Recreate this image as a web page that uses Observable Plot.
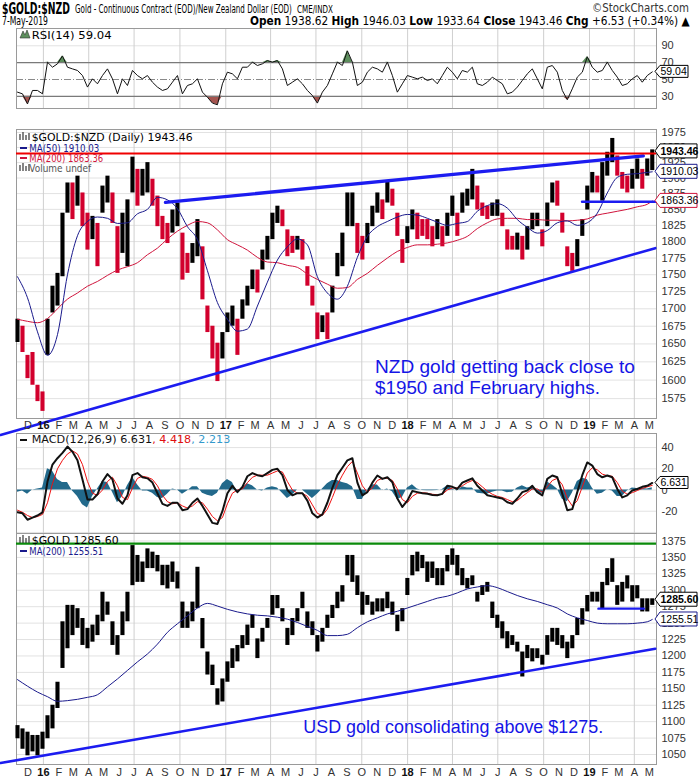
<!DOCTYPE html>
<html><head><meta charset="utf-8">
<script src="https://cdn.jsdelivr.net/npm/d3@7"></script>
<script src="https://cdn.jsdelivr.net/npm/@observablehq/plot@0.6"></script>
<style>
html,body{margin:0;padding:0;background:#fff;}
#chart{position:relative;width:700px;height:780px;overflow:hidden;background:#fff;}
#chart svg{position:absolute;left:0;overflow:visible;}
</style></head><body><div id="chart"></div>
<script>
// ---------------- DATA ----------------
const xDomain = [new Date("2015-11-08T00:00Z"), new Date("2019-05-15T12:00Z")];
const sampleFirst = new Date("2015-11-10T00:00Z");
const sampleLast = new Date("2019-05-07T00:00Z");

// $GOLD:$NZD sampled highs / lows
const nzdHigh = [1685,1675,1634,1638,1593,1584,1685,1733,1752,1844,
1892,1892,1903,1876,1844,1839,1828,1887,1903,1876,
1823,1844,1865,1934,1914,1914,1925,1898,1871,1839,
1828,1849,1860,1813,1782,1797,1834,1792,1704,1675,
1651,1666,1694,1704,1685,1713,1733,1757,1757,1787,
1808,1844,1855,1849,1818,1808,1808,1803,1762,1733,
1694,1690,1694,1733,1782,1813,1876,1876,1828,1808,
1828,1855,1876,1865,1895,1882,1844,1803,1823,1849,
1844,1834,1834,1823,1834,1823,1844,1871,1844,1876,
1882,1914,1887,1860,1855,1860,1865,1844,1818,1808,
1813,1808,1823,1844,1844,1818,1860,1892,1895,1844,
1792,1782,1803,1834,1887,1909,1903,1925,1942,1965,
1936,1909,1903,1914,1931,1914,1931,1946];
const nzdLow = [1652,1638,1602,1593,1571,1558,1634,1694,1704,1747,
1844,1834,1855,1823,1787,1803,1762,1844,1860,1828,
1752,1782,1762,1876,1855,1871,1876,1855,1823,1803,
1797,1813,1823,1742,1752,1767,1777,1713,1666,1629,
1598,1629,1666,1675,1634,1685,1704,1728,1723,1757,
1772,1803,1828,1823,1777,1782,1787,1772,1733,1704,
1656,1666,1656,1694,1747,1762,1823,1823,1782,1772,
1797,1823,1844,1834,1860,1855,1808,1767,1797,1818,
1803,1808,1803,1792,1803,1792,1808,1839,1808,1844,
1855,1865,1849,1839,1834,1839,1839,1823,1787,1787,
1787,1772,1787,1818,1823,1792,1823,1860,1855,1813,
1762,1755,1762,1808,1849,1876,1876,1863,1903,1925,
1903,1882,1876,1882,1898,1882,1903,1912];
// MA(50) and MA(200) of $GOLD:$NZD (every second sample + last)
const nzdMA50 = [1747,1716,1667,1634,1663,1750,1809,1831,1838,1836,
1828,1829,1843,1850,1869,1865,1851,1823,1803,1756,
1709,1685,1668,1671,1704,1739,1772,1792,1804,1795,
1747,1723,1714,1733,
1776,1808,1823,1831,1838,1842,1841,1836,1830,1825,
1828,1831,1847,1856,1859,1852,1834,1822,1813,1817,
1829,1832,1825,1829,1844,1876,1901,1906,1907,1909,
1910.03];
const nzdMA200 = [1685,1682,1680,1686,1700,1714,1723,1733,1740,1749,
1757,1762,1768,1780,1790,1804,1816,1825,1831,1829,
1818,1803,1795,1787,1776,1769,1768,1764,1761,1751,
1743,1736,1730,1731,
1743,1752,1764,1775,1785,1791,1795,1795,1796,1798,
1802,1808,1820,1829,1835,1836,1836,1834,1834,1833,
1833,1832,1833,1835,1841,1844,1847,1850,1854,1858,
1863.36];
// $GOLD (USD) sampled highs / lows and MA(200)
const usdHigh = [1094,1089,1084,1079,1079,1084,1109,1125,1160,1252,
1277,1277,1272,1257,1242,1247,1262,1297,1282,1252,
1231,1267,1297,1368,1353,1343,1363,1358,1353,1338,
1338,1343,1328,1282,1267,1282,1335,1257,1206,1186,
1150,1165,1191,1211,1216,1231,1247,1262,1226,1242,
1257,1292,1292,1272,1242,1257,1272,1297,1267,1252,
1231,1242,1262,1277,1297,1307,1353,1353,1322,1297,
1292,1282,1287,1287,1297,1282,1262,1272,1318,1353,
1358,1353,1343,1343,1333,1333,1353,1363,1353,1333,
1318,1322,1297,1307,1312,1282,1262,1252,1237,1231,
1221,1206,1216,1211,1211,1201,1231,1242,1242,1231,
1221,1231,1257,1272,1292,1297,1297,1312,1333,1348,
1307,1312,1322,1307,1307,1287,1287,1287];
const usdLow = [1074,1058,1048,1054,1048,1058,1074,1089,1120,1181,
1211,1231,1242,1216,1211,1221,1231,1252,1262,1216,
1201,1231,1252,1307,1312,1312,1333,1333,1328,1307,
1302,1312,1302,1242,1242,1252,1272,1211,1171,1155,
1125,1130,1160,1181,1191,1211,1216,1242,1196,1221,
1242,1262,1272,1252,1216,1231,1252,1272,1242,1231,
1206,1221,1242,1257,1272,1282,1322,1312,1292,1262,
1277,1262,1267,1267,1272,1262,1237,1252,1292,1322,
1328,1333,1312,1318,1307,1307,1328,1338,1322,1307,
1302,1307,1282,1292,1297,1257,1242,1226,1211,1216,
1206,1168,1196,1191,1196,1186,1201,1221,1216,1211,
1196,1211,1231,1247,1267,1282,1282,1272,1307,1312,
1277,1282,1302,1282,1287,1267,1267,1277];
const usdMA200 = [1164,1154,1145,1138,1131,1132,1134,1137,1141,1153,
1165,1178,1191,1203,1218,1236,1249,1261,1273,1280,
1276,1271,1267,1264,1262,1261,1259,1256,1251,1245,
1239,1231,1231,1233,
1243,1252,1258,1264,1268,1273,1278,1283,1288,1291,
1296,1302,1305,1307,1304,1298,1292,1287,1283,1278,
1273,1264,1258,1254,1250,1249,1249,1249,1250,1252,
1255.51];
// RSI(14)
const rsi = [35,33,21,37,37,33,70.5,64.6,68.6,78,
64.6,62.6,60.7,54.7,41,50.8,44.9,54.7,62.6,50.8,
33,50.8,42.9,60.7,54.7,50.8,54.7,46.8,41,37,
38.9,46.8,54.7,33,42.9,44.9,50.8,35,29,22,
20,44.9,58.7,56.7,50.8,64.6,64.6,70.6,66.6,68.6,
72.5,70.6,72.5,62.6,42.9,46.8,50.8,44.9,37,31,
22,35,42.9,56.7,70.6,66.6,84,70.6,42.9,46.8,
58.7,64.6,62.6,58.7,70.6,54.7,35,44.9,54.7,52.8,
50.8,52.8,48.8,50.8,44.9,54.7,64.6,58.7,50.8,60.7,
58.7,64.6,44.9,42.9,46.8,52.8,48.8,44.9,33,35,
41,48.8,56.7,62.6,50.8,38.9,64.6,66.6,58.7,37,
26,38.9,52.8,58.7,77,64.6,58.7,60.7,70.6,60.7,
52.8,42.9,44.9,50.8,54.7,46.8,54.7,59.04];
// MACD(12,26,9) line and signal line
const macd = [-21,-22,-28,-26,-24,-21,8,24,30,35,
41,36,28,10,-9,-9,-4,8,15,10,
-8,-13,-5,14,16,12,11,7,-3,-13,
-15,-12,-12,-19,-18,-12,-8,-15,-23,-31,
-32,-20,-3,4,-2,3,13,16,14,13,
16,19,20,14,0,-5,-3,-3,-10,-22,
-26,-23,-12,2,14,21,28,30,7,-5,
-2,7,13.7,10.5,12,7.4,-8,-16,-10,-1,
-2,-3,-3.6,-4.6,-5,-3.6,4,3,1,7,
9,11,4,-0.5,-5,-6,-7,-8,-11.5,-13,
-8,-2,-0.5,4,-2,-5,10.5,13.7,12,-3.6,
-19,-18,-2,14,26,23,15,12,13.7,12,
1,-7,-5,-0.5,1,3,4,6.631];
const macdSignal = [-19,-21,-24,-26,-25,-23,-12,6,20,28,
34,37,34,24,8,-3,-5,0,8,12,
4,-7,-9,2,11,13,12,10,4,-5,
-11,-13,-12,-15,-17,-15,-11,-12,-18,-25,
-29,-26,-13,-3,0,1,7,12,14,14,
14,16,18,17,8,0,-3,-3,-6,-14,
-22,-24,-18,-7,5,14,22,27,16,4,
-2,2,9,11,11,9,1,-9,-12,-6,
-3,-2.5,-3,-4,-4.5,-4,0,2,2,4,
7,9,7,3,-1,-4,-6,-7,-9,-11,
-10,-6,-2.5,1,1,-2,3,9,11,5,
-8,-15,-10,3,16,21,19,15,13.5,13,
7,-1,-4,-2.5,-0.5,1.5,3,4.418];
// annotation lines
const nzdUpperTrendDates = ["2016-09-02","2019-04-19"], nzdUpperTrendValues = [1861,1936];
const nzdLowerTrendDates = ["2015-10-07","2019-05-13"], nzdLowerTrendValues = [1527,1790];
const nzdSupportDates = ["2018-12-17","2019-05-13"], nzdSupportValues = [1862,1862];
const nzdResistance = [1940];
const usdLowerTrendDates = ["2015-10-07","2019-05-13"], usdLowerTrendValues = [1037,1211];
const usdSupportDates = ["2019-01-19","2019-04-20"], usdSupportValues = [1272,1272];
const usdResistance = [1371];
// ticks
const mainTicks = [1575,1600,1625,1650,1675,1700,1725,1750,1775,1800,1825,1850,1875,1900,1925,1950,1975];
const usdTicks = [1050,1075,1100,1125,1150,1175,1200,1225,1250,1275,1300,1325,1350,1375];
const rsiTicks = [30,50,70,90];
const macdTicks = [-20,0,20,40];
const macdGrid = [-40,-20,0,20,40];

// ---------------- BUILD ----------------
const chart = document.getElementById("chart");
const N = nzdHigh.length;
const dates = d3.range(N).map(i => new Date(+sampleFirst + (sampleLast - sampleFirst) * i / (N - 1)));
const maDates = dates.filter((d, i) => i % 2 === 0 || i === N - 1);
const pd = s => new Date(s + "T00:00Z");

const nzdRows = dates.map((date, i) => ({date, hi: nzdHigh[i], lo: nzdLow[i]}));
nzdRows.forEach((r, i) => { r.up = i === 0 || (r.hi + r.lo) >= (nzdRows[i-1].hi + nzdRows[i-1].lo); });
const usdRows = dates.map((date, i) => ({date, hi: usdHigh[i], lo: usdLow[i]}));
const maRows = (arr) => maDates.map((date, i) => ({date, v: arr[i]}));
const rsiRows = dates.map((date, i) => ({date, v: rsi[i]}));
const macdRows = dates.map((date, i) => ({date, m: macd[i], s: macdSignal[i], h: macd[i] - macdSignal[i]}));
const lineRows = (ds, vs) => ds.map((d, i) => ({date: pd(d), v: vs[i]}));

const quarterLines = d3.utcMonths(new Date("2016-01-01T00:00Z"), xDomain[1], 3);
const monthTicks = d3.utcMonths(new Date("2015-12-01T00:00Z"), xDomain[1]);
const monthFmt = d => d.getUTCMonth() === 0 ? d3.utcFormat("%y")(d) : "JFMAMJJASOND"[d.getUTCMonth()];

const FONT = "Liberation Sans, Arial, sans-serif";
function addPlot(top, frameH, marginBottom, opts) {
  const p = Plot.plot({
    width: 700, height: frameH + marginBottom,
    marginLeft: 16, marginRight: 44, marginTop: 0, marginBottom,
    x: {type: "utc", domain: xDomain, axis: null, label: null},
    style: {fontFamily: FONT, fontSize: "11px", color: "#333", background: "transparent", overflow: "visible"},
    ...opts
  });
  p.style.top = top + "px";
  chart.appendChild(p);
  p._top = top;
  return p;
}
const GRID = "#e2e2e2", VGRID = "#cfcfcf", FRAME = "#9a9a9a";
const rightAxis = (ticks) => Plot.axisY(ticks, {anchor: "right", tickSize: 0, tickPadding: 5, tickFormat: d => `${d}`, fill: "#333", label: null});
const BARW = 4.1;

// RSI panel
const rsiPlot = addPlot(28, 80, 0, {
  y: {domain: [15.6, 110.5], axis: null, label: null},
  marks: [
    Plot.gridY([90], {stroke: GRID, strokeOpacity: 1}),
    Plot.gridX(quarterLines, {stroke: VGRID, strokeOpacity: 1}),
    Plot.areaY(rsiRows, {x: "date", y1: 70, y2: d => Math.max(70, d.v), fill: "#5d8f5d"}),
    Plot.areaY(rsiRows, {x: "date", y1: 30, y2: d => Math.min(30, d.v), fill: "#a4544f"}),
    Plot.ruleY([70, 30], {stroke: "#7a7a7a", strokeWidth: 1.2}),
    Plot.ruleY([50], {stroke: "#8a8a8a", strokeDasharray: "7,2,1,2"}),
    Plot.lineY(rsiRows, {x: "date", y: "v", stroke: "#111", strokeWidth: 1}),
    Plot.frame({stroke: FRAME}),
    rightAxis(rsiTicks)
  ]
});

// Main panel
const mainPlot = addPlot(129, 289, 16, {
  y: {type: "log", domain: [1548.6, 1980], axis: null, label: null},
  marks: [
    Plot.gridY(mainTicks, {stroke: GRID, strokeOpacity: 1}),
    Plot.gridX(quarterLines, {stroke: VGRID, strokeOpacity: 1}),
    Plot.frame({stroke: FRAME}),
    Plot.ruleX(nzdRows.filter(d => d.up), {x: "date", y1: "lo", y2: "hi", stroke: "#000", strokeWidth: BARW}),
    Plot.ruleX(nzdRows.filter(d => !d.up), {x: "date", y1: "lo", y2: "hi", stroke: "#d2002d", strokeWidth: BARW}),
    Plot.line(maRows(nzdMA200), {x: "date", y: "v", stroke: "#d0143c", strokeWidth: 1, curve: "monotone-x"}),
    Plot.line(maRows(nzdMA50), {x: "date", y: "v", stroke: "#1a1a8c", strokeWidth: 1, curve: "monotone-x"}),
    Plot.line(lineRows(nzdLowerTrendDates, nzdLowerTrendValues), {x: "date", y: "v", stroke: "#1c1cf0", strokeWidth: 2.6}),
    Plot.line(lineRows(nzdUpperTrendDates, nzdUpperTrendValues), {x: "date", y: "v", stroke: "#1c1cf0", strokeWidth: 3.4}),
    Plot.line(lineRows(nzdSupportDates, nzdSupportValues), {x: "date", y: "v", stroke: "#1c1cf0", strokeWidth: 2.4}),
    Plot.ruleY(nzdResistance, {stroke: "#f00000", strokeWidth: 2.2}),
    rightAxis(mainTicks),
    Plot.axisX(monthTicks, {anchor: "bottom", tickSize: 0, tickPadding: 3, tickFormat: monthFmt, fill: "#333", label: null})
  ]
});

// MACD panel
const macdPlot = addPlot(433, 100, 0, {
  y: {domain: [-41, 53.3], axis: null, label: null},
  marks: [
    Plot.gridY(macdGrid, {stroke: GRID, strokeOpacity: 1}),
    Plot.gridX(quarterLines, {stroke: VGRID, strokeOpacity: 1}),
    Plot.areaY(macdRows, {x: "date", y: "h", fill: "#22698b"}),
    Plot.lineY(macdRows, {x: "date", y: "s", stroke: "#f01010", strokeWidth: 1}),
    Plot.lineY(macdRows, {x: "date", y: "m", stroke: "#111", strokeWidth: 2}),
    Plot.frame({stroke: FRAME}),
    rightAxis(macdTicks)
  ]
});

// USD gold panel
const usdPlot = addPlot(533, 231, 16, {
  y: {domain: [1034.8, 1386.4], axis: null, label: null},
  marks: [
    Plot.gridY(usdTicks, {stroke: GRID, strokeOpacity: 1}),
    Plot.gridX(quarterLines, {stroke: VGRID, strokeOpacity: 1}),
    Plot.frame({stroke: FRAME}),
    Plot.ruleX(usdRows, {x: "date", y1: "lo", y2: "hi", stroke: "#000", strokeWidth: BARW}),
    Plot.line(maRows(usdMA200), {x: "date", y: "v", stroke: "#1a1a8c", strokeWidth: 1, curve: "monotone-x"}),
    Plot.line(lineRows(usdLowerTrendDates, usdLowerTrendValues), {x: "date", y: "v", stroke: "#1c1cf0", strokeWidth: 2.6}),
    Plot.line(lineRows(usdSupportDates, usdSupportValues), {x: "date", y: "v", stroke: "#1c1cf0", strokeWidth: 2.4}),
    Plot.ruleY(usdResistance, {stroke: "#0a8a0a", strokeWidth: 2.2}),
    rightAxis(usdTicks),
    Plot.axisX(monthTicks, {anchor: "bottom", tickSize: 0, tickPadding: 4, tickFormat: monthFmt, fill: "#333", label: null})
  ]
});

// bold year labels
for (const p of [mainPlot, usdPlot]) {
  d3.select(p).selectAll("text").filter(function() { return /^\d\d$/.test(this.textContent); })
    .attr("font-weight", "bold").attr("fill", "#111");
}

// ---------------- OVERLAY (texts, legends, value boxes) ----------------
const ov = d3.select(chart).append("svg").attr("width", 700).attr("height", 780).style("top", "0px");
// text; when a target width is given the text is scaled horizontally to it
function txt(x, y, s, o = {}) {
  const t = ov.append("text").attr("x", 0).attr("y", 0).text(s)
    .attr("font-family", o.family || FONT).attr("font-size", o.size || 11)
    .attr("font-weight", o.weight || "normal").attr("fill", o.fill || "#000");
  fit(t, x, y, o.len);
  return t;
}
function fit(t, x, y, len) {
  let k = 1;
  if (len) { const w = t.node().getComputedTextLength(); if (w > 0) k = len / w; }
  t.attr("transform", `translate(${x},${y}) scale(${k},1)`);
}
const NARROW = "Liberation Sans Narrow, Arial Narrow, DejaVu Sans Condensed, Arial, sans-serif";
txt(2, 14, "$GOLD:$NZD", {family: NARROW, size: 16, weight: "bold", len: 68});
txt(75, 13, "Gold - Continuous Contract (EOD)/New Zealand Dollar (EOD)", {family: NARROW, size: 12, len: 217});
txt(297, 13, "CME/INDX", {family: NARROW, size: 10, len: 36});
txt(592, 12, "\u00A9StockCharts.com", {family: NARROW, size: 12, fill: "#333", len: 97});
txt(2, 25, "7-May-2019", {family: NARROW, size: 11.5, len: 46});
const q = ov.append("text").attr("font-family", NARROW).attr("font-size", 12);
[["Open", 1], [" 1938.62 ", 0], ["High", 1], [" 1946.03 ", 0], ["Low", 1], [" 1933.64 ", 0],
 ["Close", 1], [" 1943.46 ", 0], ["Chg", 1], [" +6.53 (+0.34%) \u25B2", 0]]
  .forEach(([s, b]) => q.append("tspan").text(s).attr("font-weight", b ? "bold" : "normal"));
fit(q, 250, 25, 440);

const LEG = "DejaVu Sans, Verdana, sans-serif";
function swatch(x, y, color) { ov.append("line").attr("x1", x).attr("x2", x + 7).attr("y1", y).attr("y2", y).attr("stroke", color).attr("stroke-width", 2); }
function barsIcon(x, y) {
  [0, 3, 6, 9].forEach((dx, i) => ov.append("line").attr("x1", x + dx).attr("x2", x + dx)
    .attr("y1", y - [6, 8, 5, 7][i]).attr("y2", y).attr("stroke", "#333").attr("stroke-width", 1.2));
}
// RSI legend
ov.append("path").attr("d", "M20,38 L23,31 L25,35 L27,30 L30,38 Z").attr("fill", "#5d8f5d").attr("stroke", "#333").attr("stroke-width", 0.6);
txt(31.7, 38.5, "RSI(14) 59.04", {family: LEG, size: 11, len: 80});
// main legend
barsIcon(20, 140);
txt(31.7, 140.5, "$GOLD:$NZD (Daily) 1943.46", {family: LEG, size: 11, len: 161});
swatch(20, 148, "#1a1a8c"); txt(29.3, 151.5, "MA(50) 1910.03", {family: LEG, size: 11, fill: "#1a1a8c", len: 70});
swatch(20, 158, "#d0143c"); txt(29.3, 161.5, "MA(200) 1863.36", {family: LEG, size: 11, fill: "#d0143c", len: 74});
barsIcon(20, 171); txt(29.3, 171.5, "Volume undef", {family: LEG, size: 11, fill: "#555", len: 62});
// MACD legend
swatch(20, 440, "#111");
const ml = ov.append("text").attr("font-family", LEG).attr("font-size", 11);
ml.append("tspan").text("MACD(12,26,9) 6.631").attr("fill", "#111");
ml.append("tspan").text(", 4.418").attr("fill", "#e01010");
ml.append("tspan").text(", 2.213").attr("fill", "#3399cc");
fit(ml, 31.7, 442.5, 199);
// USD legend
barsIcon(20, 543);
txt(31.7, 543.5, "$GOLD 1285.60", {family: LEG, size: 11, len: 87});
swatch(20, 551, "#1a1a8c"); txt(29.3, 554.5, "MA(200) 1255.51", {family: LEG, size: 11, fill: "#1a1a8c", len: 74});

// annotations
const ANN = "#1515e6";
txt(375, 373.3, "NZD gold getting back close to", {size: 19, fill: ANN, len: 260});
txt(375, 394.3, "$1950 and February highs.", {size: 19, fill: ANN, len: 225});
txt(303.3, 733.3, "USD gold consolidating above $1275.", {size: 18, fill: ANN, len: 300});

// value boxes placed through the panels' y scales
function valueBox(p, v, label, o = {}) {
  const y = p._top + p.scale("y").apply(v);
  const x0 = 655, x1 = o.right || 697, h = o.h || 7;
  ov.append("path").attr("d", `M${x0},${y} L${x0 + 5},${y - h} L${x1},${y - h} L${x1},${y + h} L${x0 + 5},${y + h} Z`)
    .attr("fill", "#fff").attr("stroke", o.stroke || "#000").attr("stroke-width", 1);
  txt(x0 + 5.5, y + 4, label, {size: 10.5, weight: o.bold ? "bold" : "normal", fill: o.fill || "#000"});
}
valueBox(mainPlot, nzdMA200[nzdMA200.length - 1], "1863.36", {stroke: "#d0143c"});
valueBox(mainPlot, nzdMA50[nzdMA50.length - 1], "1910.03", {stroke: "#1a1a8c"});
valueBox(mainPlot, 1943.46, "1943.46", {bold: true});
valueBox(rsiPlot, rsi[rsi.length - 1], "59.04", {right: 688, h: 6});
valueBox(macdPlot, macd[macd.length - 1], "6.631", {right: 688, h: 6});
valueBox(usdPlot, usdMA200[usdMA200.length - 1], "1255.51", {stroke: "#1a1a8c"});
valueBox(usdPlot, 1285.60, "1285.60", {bold: true});
</script></body></html>
